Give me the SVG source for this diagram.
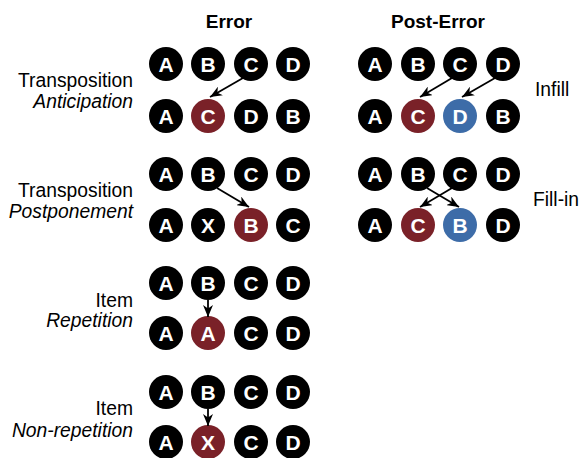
<svg xmlns="http://www.w3.org/2000/svg" width="580" height="458" viewBox="0 0 580 458">
<style>
.bg{fill:#ffffff}
.n circle{fill:#000000}
.n.red circle{fill:#7a2128}
.n.blue circle{fill:#3d6ca8}
.n text{font-family:"Liberation Sans",Arial,sans-serif;font-weight:bold;font-size:21px;fill:#ffffff;text-anchor:middle}
.title{font-family:"Liberation Sans",Arial,sans-serif;font-weight:bold;font-size:19px;fill:#000;text-anchor:middle}
.lbl{font-family:"Liberation Sans",Arial,sans-serif;font-size:19.3px;fill:#000}
.r{text-anchor:end}
.it{font-style:italic}
.conn line{stroke:#000;stroke-width:1.8;fill:none;marker-end:url(#ah)}
</style>
<defs>
<marker id="ah" markerUnits="userSpaceOnUse" markerWidth="12" markerHeight="10" refX="12" refY="5" orient="auto" viewBox="0 0 12 10">
<path d="M0,0 L12,5 L0,10 L3.5,5 z" fill="#000"/>
</marker>
</defs>
<rect class="bg" x="0" y="0" width="580" height="458"/>
<g id="titles">
<text class="title" x="229" y="28">Error</text>
<text class="title" x="438" y="28">Post-Error</text>
</g>
<g id="labels">
<text class="lbl r" x="133" y="87">Transposition</text>
<text class="lbl r it" x="133" y="108">Anticipation</text>
<text class="lbl r" x="133" y="197">Transposition</text>
<text class="lbl r it" x="133" y="218">Postponement</text>
<text class="lbl r" x="133" y="307">Item</text>
<text class="lbl r it" x="133" y="327">Repetition</text>
<text class="lbl r" x="133" y="415">Item</text>
<text class="lbl r it" x="133" y="437">Non-repetition</text>
<text class="lbl" x="535" y="96">Infill</text>
<text class="lbl" x="533" y="206">Fill-in</text>
</g>
<!-- Group 1: Anticipation -->
<g id="ant-a1" class="n"><circle cx="166" cy="64" r="17"/><text x="166" y="71.5">A</text></g>
<g id="ant-b1" class="n"><circle cx="208" cy="64" r="17"/><text x="208" y="71.5">B</text></g>
<g id="ant-c1" class="n"><circle cx="251" cy="64" r="17"/><text x="251" y="71.5">C</text></g>
<g id="ant-d1" class="n"><circle cx="293" cy="64" r="17"/><text x="293" y="71.5">D</text></g>
<g id="ant-a2" class="n"><circle cx="166" cy="116" r="17"/><text x="166" y="123.5">A</text></g>
<g id="ant-c2" class="n red"><circle cx="208" cy="116" r="17"/><text x="208" y="123.5">C</text></g>
<g id="ant-d2" class="n"><circle cx="251" cy="116" r="17"/><text x="251" y="123.5">D</text></g>
<g id="ant-b2" class="n"><circle cx="293" cy="116" r="17"/><text x="293" y="123.5">B</text></g>
<!-- Infill -->
<g id="inf-a1" class="n"><circle cx="375" cy="64" r="17"/><text x="375" y="71.5">A</text></g>
<g id="inf-b1" class="n"><circle cx="418" cy="64" r="17"/><text x="418" y="71.5">B</text></g>
<g id="inf-c1" class="n"><circle cx="460" cy="64" r="17"/><text x="460" y="71.5">C</text></g>
<g id="inf-d1" class="n"><circle cx="503" cy="64" r="17"/><text x="503" y="71.5">D</text></g>
<g id="inf-a2" class="n"><circle cx="375" cy="116" r="17"/><text x="375" y="123.5">A</text></g>
<g id="inf-c2" class="n red"><circle cx="418" cy="116" r="17"/><text x="418" y="123.5">C</text></g>
<g id="inf-d2" class="n blue"><circle cx="460" cy="116" r="17"/><text x="460" y="123.5">D</text></g>
<g id="inf-b2" class="n"><circle cx="503" cy="116" r="17"/><text x="503" y="123.5">B</text></g>
<!-- Group 2: Postponement -->
<g id="pos-a1" class="n"><circle cx="166" cy="174" r="17"/><text x="166" y="181.5">A</text></g>
<g id="pos-b1" class="n"><circle cx="208" cy="174" r="17"/><text x="208" y="181.5">B</text></g>
<g id="pos-c1" class="n"><circle cx="251" cy="174" r="17"/><text x="251" y="181.5">C</text></g>
<g id="pos-d1" class="n"><circle cx="293" cy="174" r="17"/><text x="293" y="181.5">D</text></g>
<g id="pos-a2" class="n"><circle cx="166" cy="225" r="17"/><text x="166" y="232.5">A</text></g>
<g id="pos-x2" class="n"><circle cx="208" cy="225" r="17"/><text x="208" y="232.5">X</text></g>
<g id="pos-b2" class="n red"><circle cx="251" cy="225" r="17"/><text x="251" y="232.5">B</text></g>
<g id="pos-c2" class="n"><circle cx="293" cy="225" r="17"/><text x="293" y="232.5">C</text></g>
<!-- Fill-in -->
<g id="fil-a1" class="n"><circle cx="375" cy="174" r="17"/><text x="375" y="181.5">A</text></g>
<g id="fil-b1" class="n"><circle cx="418" cy="174" r="17"/><text x="418" y="181.5">B</text></g>
<g id="fil-c1" class="n"><circle cx="460" cy="174" r="17"/><text x="460" y="181.5">C</text></g>
<g id="fil-d1" class="n"><circle cx="503" cy="174" r="17"/><text x="503" y="181.5">D</text></g>
<g id="fil-a2" class="n"><circle cx="375" cy="225" r="17"/><text x="375" y="232.5">A</text></g>
<g id="fil-c2" class="n red"><circle cx="418" cy="225" r="17"/><text x="418" y="232.5">C</text></g>
<g id="fil-b2" class="n blue"><circle cx="460" cy="225" r="17"/><text x="460" y="232.5">B</text></g>
<g id="fil-d2" class="n"><circle cx="503" cy="225" r="17"/><text x="503" y="232.5">D</text></g>
<!-- Group 3: Repetition -->
<g id="rep-a1" class="n"><circle cx="166" cy="283" r="17"/><text x="166" y="290.5">A</text></g>
<g id="rep-b1" class="n"><circle cx="208" cy="283" r="17"/><text x="208" y="290.5">B</text></g>
<g id="rep-c1" class="n"><circle cx="251" cy="283" r="17"/><text x="251" y="290.5">C</text></g>
<g id="rep-d1" class="n"><circle cx="293" cy="283" r="17"/><text x="293" y="290.5">D</text></g>
<g id="rep-a2" class="n"><circle cx="166" cy="333" r="17"/><text x="166" y="340.5">A</text></g>
<g id="rep-a3" class="n red"><circle cx="208" cy="333" r="17"/><text x="208" y="340.5">A</text></g>
<g id="rep-c2" class="n"><circle cx="251" cy="333" r="17"/><text x="251" y="340.5">C</text></g>
<g id="rep-d2" class="n"><circle cx="293" cy="333" r="17"/><text x="293" y="340.5">D</text></g>
<!-- Group 4: Non-repetition -->
<g id="non-a1" class="n"><circle cx="166" cy="392" r="17"/><text x="166" y="399.5">A</text></g>
<g id="non-b1" class="n"><circle cx="208" cy="392" r="17"/><text x="208" y="399.5">B</text></g>
<g id="non-c1" class="n"><circle cx="251" cy="392" r="17"/><text x="251" y="399.5">C</text></g>
<g id="non-d1" class="n"><circle cx="293" cy="392" r="17"/><text x="293" y="399.5">D</text></g>
<g id="non-a2" class="n"><circle cx="166" cy="442" r="17"/><text x="166" y="449.5">A</text></g>
<g id="non-x2" class="n red"><circle cx="208" cy="442" r="17"/><text x="208" y="449.5">X</text></g>
<g id="non-c2" class="n"><circle cx="251" cy="442" r="17"/><text x="251" y="449.5">C</text></g>
<g id="non-d2" class="n"><circle cx="293" cy="442" r="17"/><text x="293" y="449.5">D</text></g>
<g id="connectors" class="conn">
<line x1="243" y1="78" x2="210" y2="97"/>
<line x1="452" y1="78" x2="420" y2="97"/>
<line x1="495" y1="78" x2="462" y2="97"/>
<line x1="217" y1="188" x2="249" y2="207"/>
<line x1="427" y1="188" x2="459" y2="207"/>
<line x1="452" y1="188" x2="420" y2="207"/>
<line x1="208" y1="300" x2="208" y2="317"/>
<line x1="208" y1="409" x2="208" y2="426"/>
</g>
</svg>
